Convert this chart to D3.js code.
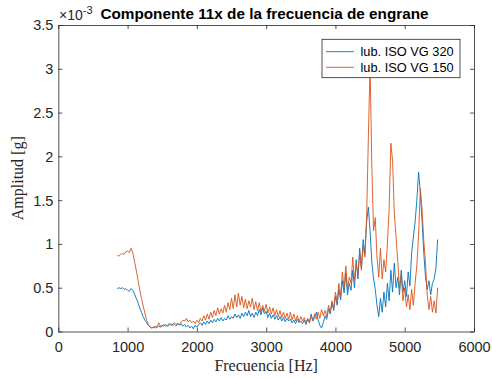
<!DOCTYPE html>
<html>
<head>
<meta charset="utf-8">
<script src="https://cdn.jsdelivr.net/npm/d3@7"></script>
<style>
    body { margin: 0; background: #ffffff; }
    svg { display: block; }
</style>
</head>
<body>
<svg id="chart" width="492" height="379"></svg>
<script>
// frequency grid [Hz]
const freqHz = [
    850, 875, 900, 925, 950, 975, 1000, 1025, 1050, 1075, 1100, 1125, 1150, 1175, 1200, 1225,
    1250, 1275, 1300, 1325, 1350, 1375, 1400, 1425, 1450, 1475, 1500, 1525, 1550, 1575, 1600, 1625,
    1650, 1675, 1700, 1725, 1750, 1775, 1800, 1825, 1850, 1875, 1900, 1925, 1950, 1975, 2000, 2025,
    2050, 2075, 2100, 2125, 2150, 2175, 2200, 2225, 2250, 2275, 2300, 2325, 2350, 2375, 2400, 2425,
    2450, 2475, 2500, 2525, 2550, 2575, 2600, 2625, 2650, 2675, 2700, 2725, 2750, 2775, 2800, 2825,
    2850, 2875, 2900, 2925, 2950, 2975, 3000, 3025, 3050, 3075, 3100, 3125, 3150, 3175, 3200, 3225,
    3250, 3275, 3300, 3325, 3350, 3375, 3400, 3425, 3450, 3475, 3500, 3525, 3550, 3575, 3600, 3625,
    3650, 3675, 3700, 3725, 3750, 3775, 3800, 3825, 3850, 3875, 3900, 3925, 3950, 3975, 4000, 4025,
    4050, 4075, 4100, 4125, 4150, 4175, 4200, 4225, 4250, 4275, 4300, 4325, 4350, 4375, 4400, 4425,
    4450, 4475, 4500, 4525, 4550, 4575, 4600, 4625, 4650, 4675, 4700, 4725, 4750, 4775, 4800, 4825,
    4850, 4875, 4900, 4925, 4950, 4975, 5000, 5025, 5050, 5075, 5100, 5125, 5150, 5175, 5200, 5225,
    5250, 5275, 5300, 5325, 5350, 5375, 5400, 5425, 5450, 5475
];

// amplitude [g x 1e-3], lub. ISO VG 320
const ampVG320 = [
    0.49, 0.50, 0.49, 0.50, 0.48, 0.49, 0.47, 0.46, 0.49, 0.47, 0.43, 0.38, 0.33, 0.27, 0.22, 0.17,
    0.13, 0.10, 0.07, 0.05, 0.04, 0.05, 0.04, 0.05, 0.06, 0.05, 0.06, 0.08, 0.06, 0.07, 0.09, 0.07,
    0.08, 0.10, 0.08, 0.09, 0.07, 0.09, 0.06, 0.08, 0.05, 0.07, 0.04, 0.06, 0.03, 0.07, 0.05, 0.08,
    0.10, 0.07, 0.11, 0.08, 0.12, 0.09, 0.13, 0.10, 0.14, 0.11, 0.15, 0.12, 0.16, 0.12, 0.15, 0.13,
    0.18, 0.14, 0.17, 0.15, 0.20, 0.16, 0.19, 0.15, 0.21, 0.17, 0.22, 0.18, 0.24, 0.17, 0.21, 0.16,
    0.22, 0.18, 0.25, 0.19, 0.27, 0.20, 0.23, 0.16, 0.21, 0.15, 0.19, 0.14, 0.18, 0.13, 0.17, 0.12,
    0.16, 0.11, 0.15, 0.12, 0.14, 0.10, 0.13, 0.09, 0.14, 0.10, 0.12, 0.09, 0.13, 0.08, 0.14, 0.10,
    0.20, 0.12, 0.16, 0.22, 0.13, 0.07, 0.04, 0.10, 0.18, 0.14, 0.26, 0.20, 0.33, 0.24, 0.40, 0.30,
    0.48, 0.36, 0.58, 0.44, 0.67, 0.42, 0.55, 0.47, 0.70, 0.50, 0.82, 0.60, 0.95, 0.72, 1.05, 0.88,
    1.25, 1.42, 1.15, 0.80, 0.60, 0.48, 0.30, 0.17, 0.38, 0.22, 0.45, 0.28, 0.55, 0.35, 0.70, 0.45,
    0.78, 0.50, 0.62, 0.42, 0.70, 0.45, 0.58, 0.40, 0.68, 0.52, 0.90, 1.08, 1.25, 1.50, 1.82, 1.60,
    1.27, 0.90, 0.62, 0.48, 0.58, 0.42, 0.55, 0.60, 0.72, 1.05
];

// amplitude [g x 1e-3], lub. ISO VG 150
const ampVG150 = [
    0.87, 0.86, 0.88, 0.89, 0.88, 0.91, 0.92, 0.90, 0.95, 0.90, 0.80, 0.70, 0.59, 0.48, 0.38, 0.29,
    0.21, 0.13, 0.08, 0.05, 0.04, 0.05, 0.06, 0.05, 0.10, 0.06, 0.07, 0.06, 0.08, 0.06, 0.07, 0.09,
    0.07, 0.08, 0.06, 0.09, 0.08, 0.11, 0.13, 0.12, 0.15, 0.11, 0.13, 0.10, 0.12, 0.09, 0.13, 0.10,
    0.15, 0.12, 0.18, 0.13, 0.20, 0.14, 0.22, 0.16, 0.24, 0.18, 0.27, 0.20, 0.26, 0.21, 0.30, 0.22,
    0.33, 0.25, 0.38, 0.26, 0.42, 0.28, 0.44, 0.30, 0.40, 0.27, 0.37, 0.26, 0.35, 0.28, 0.38, 0.25,
    0.34, 0.24, 0.33, 0.22, 0.30, 0.23, 0.31, 0.21, 0.28, 0.20, 0.27, 0.18, 0.25, 0.17, 0.24, 0.16,
    0.22, 0.15, 0.21, 0.14, 0.22, 0.13, 0.20, 0.12, 0.18, 0.11, 0.17, 0.12, 0.16, 0.10, 0.15, 0.11,
    0.18, 0.12, 0.20, 0.14, 0.22, 0.15, 0.25, 0.18, 0.24, 0.17, 0.30, 0.22, 0.35, 0.26, 0.45, 0.34,
    0.55, 0.40, 0.68, 0.50, 0.75, 0.48, 0.62, 0.55, 0.85, 0.58, 0.78, 0.65, 0.90, 0.70, 0.98, 0.85,
    1.30, 2.20, 3.05, 1.90, 1.15, 1.30, 0.85, 0.62, 0.95, 0.60, 0.82, 0.68, 1.00, 1.40, 2.15, 1.95,
    1.35, 1.08, 0.80, 0.50, 0.65, 0.35, 0.50, 0.28, 0.42, 0.25, 0.48, 0.30, 0.55, 0.75, 1.10, 1.63,
    1.40, 1.04, 0.78, 0.42, 0.25, 0.40, 0.22, 0.35, 0.21, 0.50
];

const seriesNames = ["lub. ISO VG 320", "lub. ISO VG 150"];
const seriesColors = ["#0072BD", "#D95319"];
const xTicks = [0, 1000, 2000, 3000, 4000, 5000, 6000];
const yTicks = [0, 0.5, 1, 1.5, 2, 2.5, 3, 3.5];

function draw_spectrum(svg_name) {
    let chart = d3.select(svg_name);
    let left = 58.3, right = 474, top = 25, bottom = 331.5;
    let axisColor = "#262626";
    let sansFont = "Liberation Sans, Arial, Helvetica, sans-serif";
    let serifFont = "Liberation Serif, Times New Roman, serif";

    let x = d3.scaleLinear()
        .domain([0, 6000])
        .range([left, right]);

    let y = d3.scaleLinear()
        .domain([0, 3.5])
        .range([bottom, top]);

    // spectrum lines
    let line = d3.line()
        .x(function(d) { return x(d[0]); })
        .y(function(d) { return y(d[1]); });

    let series = [ampVG320, ampVG150];
    series.forEach(function(values, i) {
        let points = freqHz.map(function(f, k) { return [f, values[k]]; });
        chart.append("path")
            .datum(points)
            .attr("fill", "none")
            .attr("stroke", seriesColors[i])
            .attr("stroke-width", 0.9)
            .attr("stroke-linejoin", "round")
            .attr("d", line);
    });

    // box around the axes, ticks pointing inward on all four sides
    let xAxisBottom = d3.axisBottom(x).tickValues(xTicks).tickSizeInner(-4).tickSizeOuter(0)
        .tickFormat(d3.format("d"));
    let xAxisTop = d3.axisTop(x).tickValues(xTicks).tickSizeInner(-4).tickSizeOuter(0)
        .tickFormat("");
    let yAxisLeft = d3.axisLeft(y).tickValues(yTicks).tickSizeInner(-4).tickSizeOuter(0)
        .tickFormat(function(d) { return d3.format("~g")(d); });
    let yAxisRight = d3.axisRight(y).tickValues(yTicks).tickSizeInner(-4).tickSizeOuter(0)
        .tickFormat("");

    let gb = chart.append("g").attr("transform", "translate(0," + bottom + ")").call(xAxisBottom);
    let gt = chart.append("g").attr("transform", "translate(0," + top + ")").call(xAxisTop);
    let gl = chart.append("g").attr("transform", "translate(" + left + ",0)").call(yAxisLeft);
    let gr = chart.append("g").attr("transform", "translate(" + right + ",0)").call(yAxisRight);

    [gb, gt, gl, gr].forEach(function(g) {
        g.selectAll("path.domain").attr("stroke", axisColor).attr("stroke-width", 0.8);
        g.selectAll(".tick line").attr("stroke", axisColor).attr("stroke-width", 0.8);
        g.selectAll(".tick text")
            .attr("fill", axisColor)
            .style("font-family", sansFont)
            .style("font-size", "14.5px");
    });
    gb.selectAll(".tick text").attr("y", 10).attr("dy", "0.71em");
    gl.selectAll(".tick text").attr("x", -5).attr("dy", "0.34em");

    // exponent above the y axis
    let expo = chart.append("text")
        .attr("x", 59)
        .attr("y", 19.5)
        .style("font-family", sansFont)
        .style("font-size", "14px")
        .attr("fill", axisColor);
    expo.append("tspan").text("\u00d710");
    expo.append("tspan").attr("dy", -6).style("font-size", "11px").text("-3");

    // title
    chart.append("text")
        .attr("x", 264.5)
        .attr("y", 19)
        .attr("text-anchor", "middle")
        .style("font-family", sansFont)
        .style("font-size", "15.3px")
        .style("font-weight", "bold")
        .attr("fill", "#000000")
        .text("Componente 11x de la frecuencia de engrane");

    // axis labels
    chart.append("text")
        .attr("x", (left + right) / 2)
        .attr("y", 371)
        .attr("text-anchor", "middle")
        .style("font-family", serifFont)
        .style("font-size", "16px")
        .attr("fill", axisColor)
        .text("Frecuencia [Hz]");

    chart.append("text")
        .attr("transform", "translate(23," + ((top + bottom) / 2) + ") rotate(-90)")
        .attr("text-anchor", "middle")
        .style("font-family", serifFont)
        .style("font-size", "16px")
        .attr("fill", axisColor)
        .text("Amplitud [g]");

    // legend
    let legend = chart.append("g");
    legend.append("rect")
        .attr("x", 322)
        .attr("y", 39.3)
        .attr("width", 138)
        .attr("height", 38.4)
        .attr("fill", "#ffffff")
        .attr("stroke", axisColor)
        .attr("stroke-width", 0.8);

    seriesNames.forEach(function(name, i) {
        let ly = 51.7 + i * 15.6;
        legend.append("line")
            .attr("x1", 326)
            .attr("x2", 354)
            .attr("y1", ly)
            .attr("y2", ly)
            .attr("stroke", seriesColors[i])
            .attr("stroke-width", 0.9);
        legend.append("text")
            .attr("x", 360.5)
            .attr("y", ly)
            .attr("dy", "0.35em")
            .style("font-family", sansFont)
            .style("font-size", "12.8px")
            .attr("fill", "#000000")
            .text(name);
    });

    return {
        chart : chart,
        x_scale : x,
        y_scale : y
    };
}

draw_spectrum("#chart");
</script>
</body>
</html>
